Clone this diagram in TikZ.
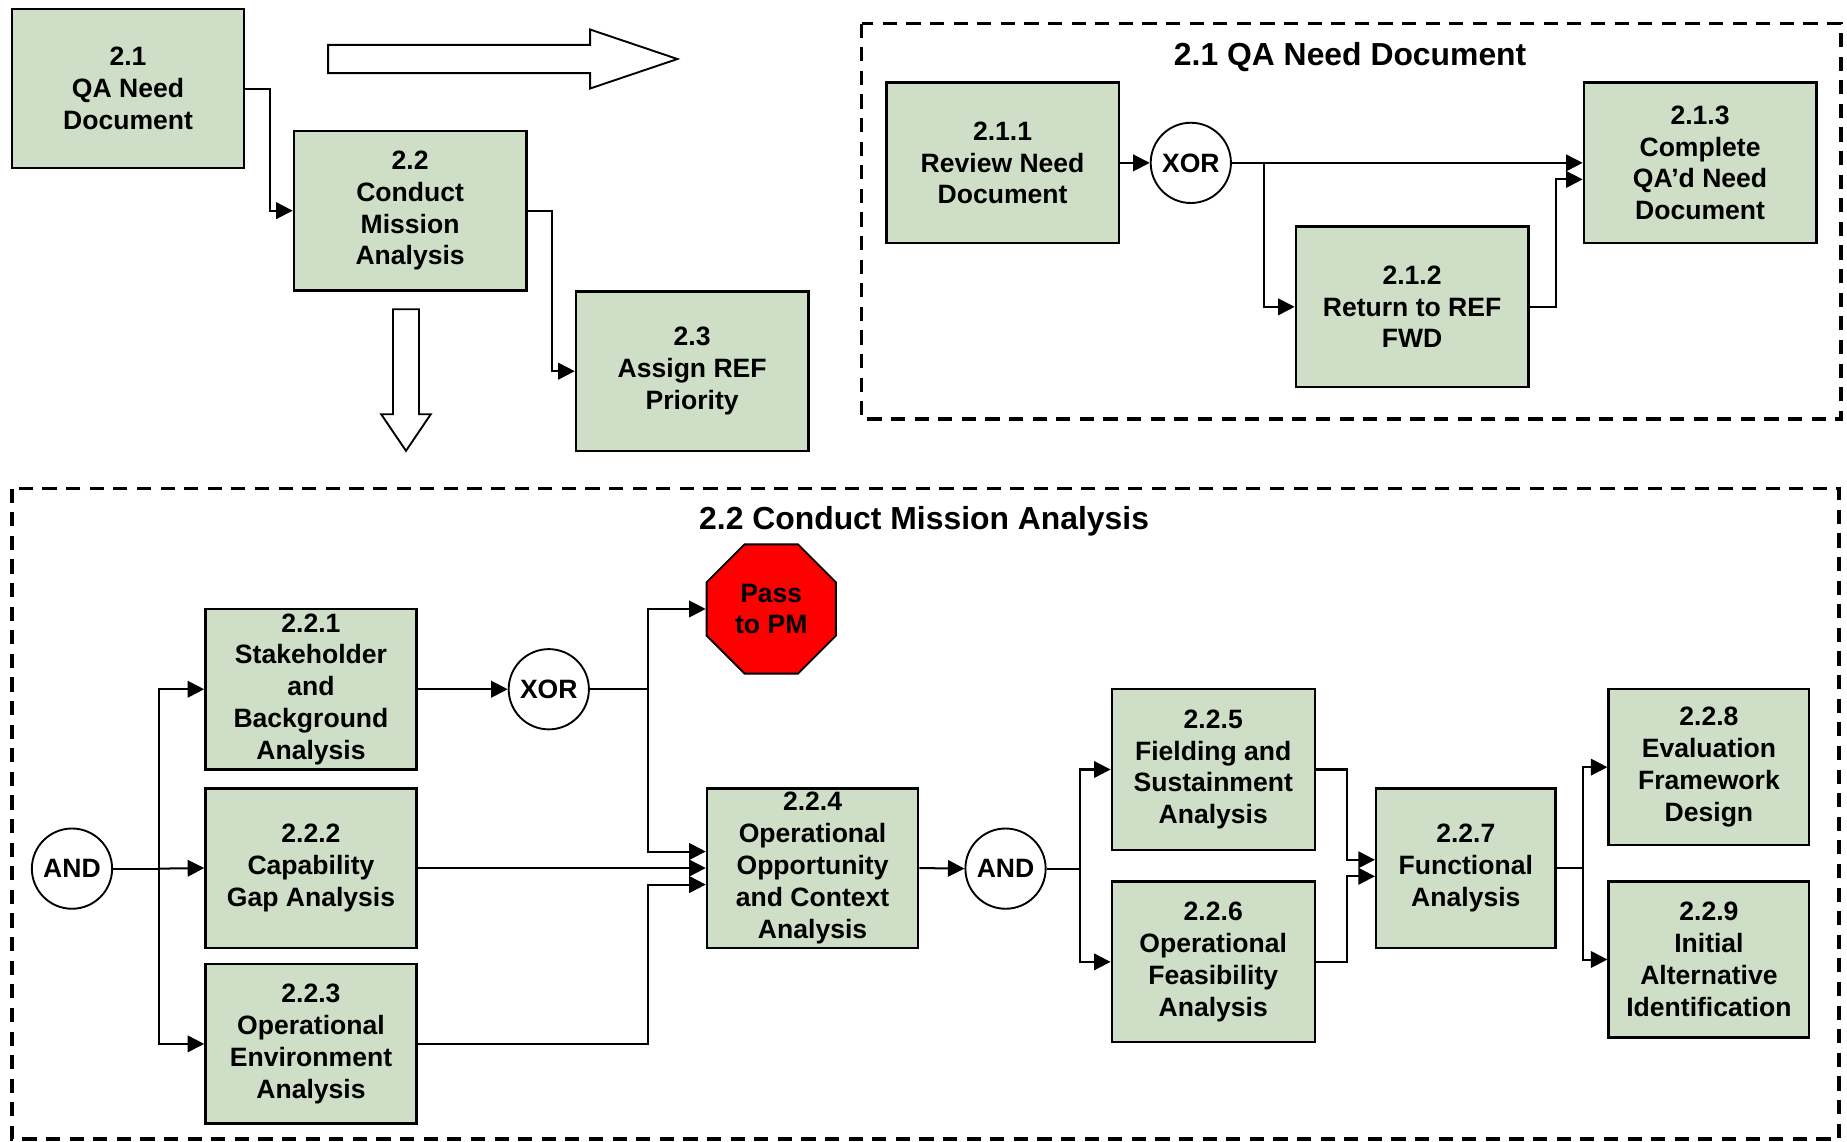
\documentclass[tikz,border=0pt]{standalone}
\usepackage{fontspec}
\setmainfont{Liberation Sans}
\usetikzlibrary{arrows.meta,shapes.geometric}
\definecolor{boxgreen}{RGB}{207,223,199}
\definecolor{stopred}{RGB}{255,0,0}
\tikzset{
  x=1pt,y=-1pt,
  proc/.style={draw=black,line width=2pt,fill=boxgreen,align=center,inner sep=0pt,
    font=\fontsize{22.5}{27}\selectfont\bfseries},
  gate/.style={draw=black,line width=1.6pt,fill=white,circle,minimum size=68pt,inner sep=0pt,
    font=\fontsize{22.5}{27}\selectfont\bfseries},
  conn/.style={line width=1.7pt,-{Triangle[length=14pt,width=14pt]}},
  plain/.style={line width=1.7pt},
  frame/.style={draw=black,line width=3pt,dash pattern=on 12pt off 8pt},
  hollow/.style={draw=black,line width=1.6pt,fill=white},
  ttl/.style={font=\fontsize{27}{32}\selectfont\bfseries}
}
\begin{document}
\begin{tikzpicture}
\useasboundingbox (0,0) rectangle (1565,967);
% ---------- top left
\node[proc,minimum width=197pt,minimum height=135pt] (b21) at (108.5,75) {2.1\\QA Need\\Document};
\node[proc,minimum width=197pt,minimum height=135pt] (b22) at (347.5,178.5) {2.2\\Conduct\\Mission\\Analysis};
\node[proc,minimum width=197pt,minimum height=135pt] (b23) at (586.5,314.5) {2.3\\Assign REF\\Priority};
\coordinate (k1) at (229,75);
\coordinate (k2) at (468,178.5);
\draw[conn] (b21.east) -- (k1) |- (b22.west);
\draw[conn] (b22.east) -- (k2) |- (b23.west);
% hollow arrows
\draw[hollow] (278,38) -- (500,38) -- (500,25) -- (574,50) -- (500,75) -- (500,62) -- (278,62) -- cycle;
\draw[hollow] (333,262) -- (355,262) -- (355,351) -- (365,351) -- (344,382) -- (323,351) -- (333,351) -- cycle;
% ---------- top right frame
\draw[frame] (730,20) rectangle (1560,355);
\node[ttl] (t1) at (1144,48) {2.1 QA Need Document};
\node[proc,minimum width=197pt,minimum height=136pt] (b211) at (849.5,138) {2.1.1\\Review Need\\Document};
\node[gate] (x1) at (1009,138) {XOR};
\node[proc,minimum width=197pt,minimum height=136pt] (b213) at (1440.5,138) {2.1.3\\Complete\\QA’d Need\\Document};
\node[proc,minimum width=197pt,minimum height=136pt] (b212) at (1196.5,260) {2.1.2\\Return to REF\\FWD};
\coordinate (k3) at (1071,138);
\coordinate (k4) at (1318,260);
\draw[conn] (b211.east) -- (x1.west);
\draw[conn] (x1.east) -- (b213.west |- x1.east);
\draw[conn] (k3) |- (b212.west);
\draw[conn] (b212.east) -- (k4) |- ([yshift=-14pt]b213.west);
% ---------- bottom frame
\draw[frame] (10,414) rectangle (1558,965);
\node[ttl] (t2) at (783,442) {2.2 Conduct Mission Analysis};
\node[gate] (a1) at (61,736) {AND};
\node[proc,minimum width=179pt,minimum height=136pt] (b221) at (263.5,584) {2.2.1\\Stakeholder\\and\\Background\\Analysis};
\node[proc,minimum width=179pt,minimum height=135pt] (b222) at (263.5,735.5) {2.2.2\\Capability\\Gap Analysis};
\node[proc,minimum width=179pt,minimum height=135pt] (b223) at (263.5,884.5) {2.2.3\\Operational\\Environment\\Analysis};
\node[gate] (x2) at (465,584) {XOR};
\node[draw=black,line width=1.6pt,fill=stopred,regular polygon,regular polygon sides=8,
  minimum size=118.5pt,inner sep=0pt,align=center,font=\fontsize{22.5}{27}\selectfont\bfseries]
  (pm) at (653.5,516) {Pass\\to PM};
\node[proc,minimum width=179pt,minimum height=135pt] (b224) at (688.5,735.5) {2.2.4\\Operational\\Opportunity\\and Context\\Analysis};
\node[gate] (a2) at (852,736) {AND};
\node[proc,minimum width=172pt,minimum height=136pt] (b225) at (1028,652) {2.2.5\\Fielding and\\Sustainment\\Analysis};
\node[proc,minimum width=172pt,minimum height=136pt] (b226) at (1028,815) {2.2.6\\Operational\\Feasibility\\Analysis};
\node[proc,minimum width=152pt,minimum height=135pt] (b227) at (1242,735.5) {2.2.7\\Functional\\Analysis};
\node[proc,minimum width=170pt,minimum height=132pt] (b228) at (1448,650) {2.2.8\\Evaluation\\Framework\\Design};
\node[proc,minimum width=170pt,minimum height=132pt] (b229) at (1448,813) {2.2.9\\Initial\\Alternative\\Identification};
% connectors
\coordinate (j1) at (135,736);
\draw[plain] (a1.east) -- (j1);
\draw[conn] (j1) |- (b221.west);
\draw[conn] (j1) -- (b222.west);
\draw[conn] (j1) |- (b223.west);
\draw[conn] (b221.east) -- (x2.west);
\coordinate (j2) at (549,584);
\draw[plain] (x2.east) -- (j2);
\draw[conn] (j2) |- (pm.west);
\draw[conn] (j2) |- ([yshift=14pt]b224.west);
\draw[conn] (b222.east) -- (b224.west);
\coordinate (j3) at (549,884.5);
\draw[conn] (b223.east) -- (j3) |- ([yshift=-14pt]b224.west);
\draw[conn] (b224.east) -- (a2.west);
\coordinate (j4) at (915,736);
\draw[plain] (a2.east) -- (j4);
\draw[conn] (j4) |- (b225.west);
\draw[conn] (j4) |- (b226.west);
\coordinate (j5) at (1141,652);
\coordinate (j6) at (1141,815);
\draw[conn] (b225.east) -- (j5) |- ([yshift=7pt]b227.west);
\draw[conn] (b226.east) -- (j6) |- ([yshift=-7pt]b227.west);
\coordinate (j7) at (1341,735.5);
\draw[plain] (b227.east) -- (j7);
\draw[conn] (j7) |- (b228.west);
\draw[conn] (j7) |- (b229.west);
\end{tikzpicture}
\end{document}
